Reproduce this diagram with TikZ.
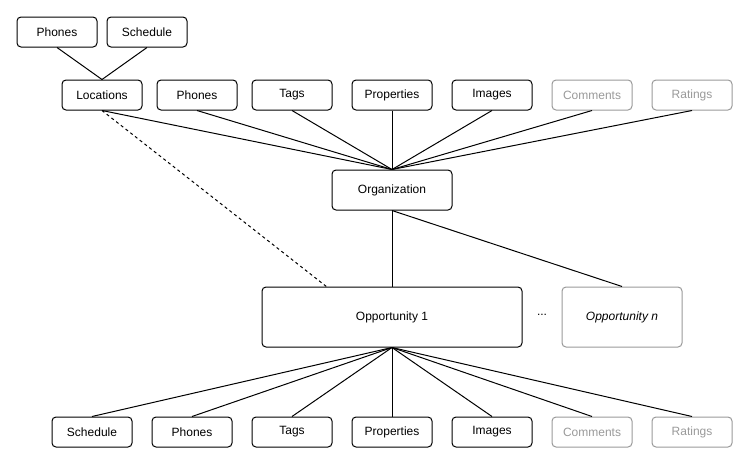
\documentclass[tikz,border=0pt]{standalone}
\usepackage{fontspec}
\setmainfont{Liberation Sans}
\begin{document}
\begin{tikzpicture}[x=1pt,y=-1pt,
  box/.style={draw=black,line width=1pt,rounded corners=4pt,minimum width=80pt,minimum height=30pt,inner sep=0pt,font=\fontsize{12}{14}\selectfont},
  grey/.style={draw=graybox,text=graytext},
  conn/.style={line width=1pt},
]
\definecolor{graybox}{HTML}{999999}
\definecolor{graytext}{HTML}{999999}
\useasboundingbox (0,0) rectangle (749,464);
% top small row
\node[box] (tphones) at (57,32) {Phones};
\node[box] (tsched) at (147,32) {Schedule};
% second row
\node[box] (loc) at (102,95) {Locations};
\node[box] (ophones) at (197,95) {Phones};
\node[box] (otags) at (292,95) {Tags};
\node[box] (oprops) at (392,95) {Properties};
\node[box] (oimages) at (492,95) {Images};
\node[box,grey] (ocomm) at (592,95) {Comments};
\node[box,grey] (orat) at (692,95) {Ratings};
% organization
\node[box,minimum width=120pt,minimum height=40pt] (org) at (392,190) {Organization};
% opportunities
\node[box,minimum width=260pt,minimum height=60pt] (opp1) at (392,317) {Opportunity 1};
\node[box,draw=graybox,text=black,minimum width=120pt,minimum height=60pt,font=\fontsize{12}{14}\selectfont\itshape] (oppn) at (622,317) {Opportunity n};
\node[font=\fontsize{12}{14}\selectfont] (dots) at (542,315) {...};
% bottom row
\node[box] (bsched) at (92,432) {Schedule};
\node[box] (bphones) at (192,432) {Phones};
\node[box] (btags) at (292,432) {Tags};
\node[box] (bprops) at (392,432) {Properties};
\node[box] (bimages) at (492,432) {Images};
\node[box,grey] (bcomm) at (592,432) {Comments};
\node[box,grey] (brat) at (692,432) {Ratings};
% connectors
\coordinate (dashend) at (327,287);
\draw[conn] (tphones.south) -- (loc.north);
\draw[conn] (tsched.south) -- (loc.north);
\foreach \n in {loc,ophones,otags,oprops,oimages,ocomm,orat}
  \draw[conn] (\n.south) -- (org.north);
\draw[conn] (org.south) -- (opp1.north);
\draw[conn] (org.south) -- (oppn.north);
\draw[conn,dashed,dash pattern=on 3pt off 3pt] (loc.south) -- (dashend);
\foreach \n in {bsched,bphones,btags,bprops,bimages,bcomm,brat}
  \draw[conn] (opp1.south) -- (\n.north);
\end{tikzpicture}
\end{document}
